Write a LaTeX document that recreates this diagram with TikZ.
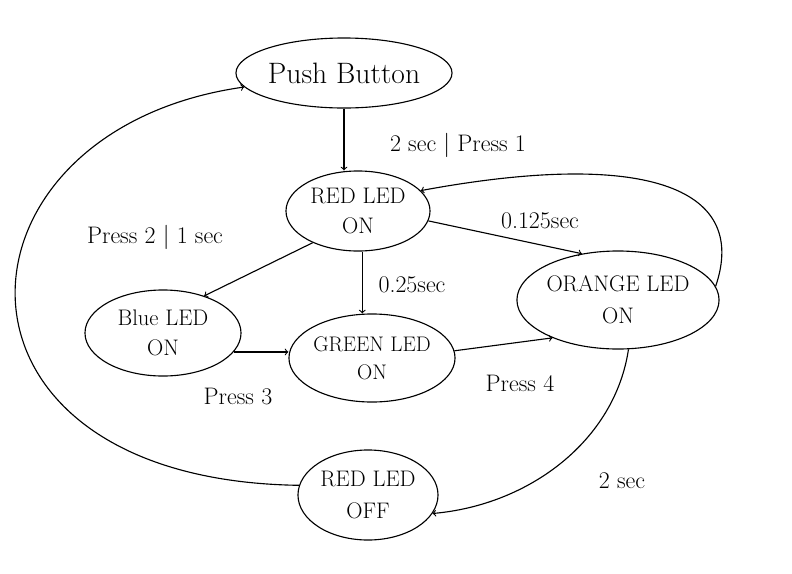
\documentclass[tikz,border=0pt]{standalone}
\usepackage{amsmath}
\usepackage{tikz}
\usetikzlibrary{shapes.geometric, arrows, positioning, calc}

\begin{document}
\begin{tikzpicture}[x=0.025cm, y=-0.025cm,
    state/.style={ellipse, draw, thick, align=center, inner sep=0pt, font=\fontsize{16}{19}\selectfont},
    lbl/.style={font=\fontsize{17}{20}\selectfont},
    every path/.style={thick}]
\useasboundingbox (0,0) rectangle (792,574);

% States
\node[state, font=\fontsize{21}{25}\selectfont, minimum width=5.4cm, minimum height=1.75cm] (push) at (344,73) {Push Button};
\node[state, minimum width=3.6cm, minimum height=2.0cm] (redon) at (358,211) {RED LED\\[2pt] ON};
\node[state, minimum width=3.9cm, minimum height=2.15cm] (blue) at (163,333) {Blue LED\\[2pt] ON};
\node[state, font=\fontsize{15}{18}\selectfont, minimum width=4.0cm, minimum height=2.2cm] (green) at (372,358) {GREEN LED\\[2pt] ON};
\node[state, minimum width=4.75cm, minimum height=2.45cm] (orange) at (618,300) {ORANGE LED\\[4pt] ON};
\node[state, minimum width=3.5cm, minimum height=2.25cm] (redoff) at (368,495) {RED LED\\[4pt] OFF};

% Transitions
\draw[->] (push.south) -- (push.south |- redon.north);
\draw[->] (redon.-8) -- (orange.128);
\draw[->] (orange.8) .. controls (750,185) and (640,150) .. (redon.18);
\draw[->] (redon.-145) -- (blue.42);
\draw[->] (redon.-84) -- (redon.-84 |- green.north);
\draw[->] (blue.-15) -- (blue.-15 -| green.west);
\draw[->] (green.5) -- (orange.-150);
\draw[->] (orange.-78) .. controls (615,440) and (530,505) .. (redoff.-16);
\draw[->] (redoff.172) .. controls (-80,480) and (-60,130) .. (push.188);

% Labels
\node[lbl] (l1) at (458,145) {2 sec $|$ Press 1};
\node[lbl] (l2) at (155,237) {Press 2 $|$ 1 sec};
\node[lbl] (l3) at (540,221) {0.125sec};
\node[lbl] (l4) at (412,285) {0.25sec};
\node[lbl] (l5) at (238,397) {Press 3};
\node[lbl] (l6) at (520,383) {Press 4};
\node[lbl] (l7) at (622,481) {2 sec};
\end{tikzpicture}
\end{document}
